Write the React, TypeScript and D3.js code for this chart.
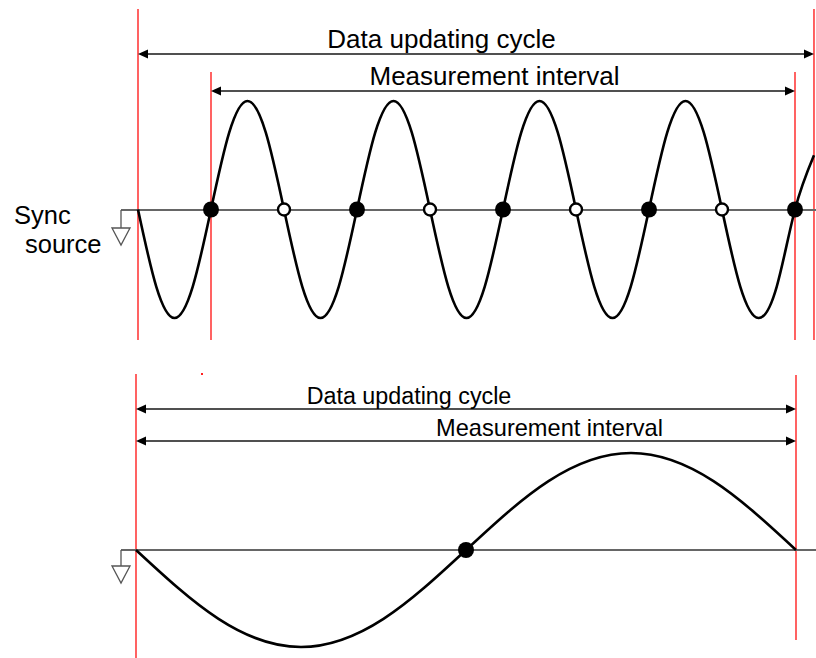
import React from "react";
import * as d3 from "d3";

// ---- data (time in half-periods of the sync source, value normalised) ----
const topWaveT = [0,0.25,0.5,0.75,1,1.25,1.5,1.75,2,2.25,2.5,2.75,3,3.25,3.5,3.75,4,4.25,4.5,4.75,5,5.25,5.5,5.75,6,6.25,6.5,6.75,7,7.25,7.5,7.75,8,8.25,8.5,8.75,9,9.26];
const topWaveV = [0,-0.71,-1,-0.71,0,0.71,1,0.71, 0,-0.71,-1,-0.71,0,0.71,1,0.71, 0,-0.71,-1,-0.71,0,0.71,1,0.71, 0,-0.71,-1,-0.71,0,0.71,1,0.71, 0,-0.71,-1,-0.71,0,0.5];
const topBlackDots = [1,3,5,7,9];
const topWhiteDots = [2,4,6,8];
const topCycle = [0, 9.26];
const topInterval = [1, 9];

const botWaveT = [0,0.25,0.5,0.75,1,1.25,1.5,1.75,2];
const botWaveV = [0,-0.71,-1,-0.71,0,0.71,1,0.71,0];
const botBlackDots = [1];
const botCycle = [0, 2];
const botInterval = [0, 2];

const labels = {
  cycle: "Data updating cycle",
  interval: "Measurement interval",
  sync1: "Sync",
  sync2: "source",
};

const FONT = "'Liberation Sans', Arial, sans-serif";

function Arrow({ x1, x2, y }: { x1: number; x2: number; y: number }) {
  const h = 10, w = 4.5;
  return (
    <g>
      <line x1={x1 + 4} x2={x2 - 4} y1={y} y2={y} stroke="#505050" strokeWidth={2} />
      <path d={`M${x1},${y} L${x1 + h},${y - w} L${x1 + h},${y + w} Z`} fill="#000" />
      <path d={`M${x2},${y} L${x2 - h},${y - w} L${x2 - h},${y + w} Z`} fill="#000" />
    </g>
  );
}

function Ground({ x, y, stem }: { x: number; y: number; stem: number }) {
  const top = y + stem;
  return (
    <g fill="#fff" stroke="#555" strokeWidth={1.3}>
      <line x1={x} x2={x} y1={y} y2={top} />
      <path d={`M${x - 9},${top} L${x + 9},${top} L${x},${top + 17} Z`} />
    </g>
  );
}

export default function App() {
  // top panel scales
  const tx = d3.scaleLinear().domain([0, 9]).range([138, 795]);
  const ty = d3.scaleLinear().domain([-1, 1]).range([318, 101]);
  // bottom panel scales
  const bx = d3.scaleLinear().domain([0, 2]).range([136, 796]);
  const by = d3.scaleLinear().domain([-1, 1]).range([647, 453]);

  const topLine = d3
    .line<number>()
    .x((_, i) => tx(topWaveT[i]))
    .y((v) => ty(v))
    .curve(d3.curveNatural);
  const botLine = d3
    .line<number>()
    .x((_, i) => bx(botWaveT[i]))
    .y((v) => by(v))
    .curve(d3.curveNatural);

  const red = "#ff2020";
  const y0 = 210;

  return (
    <svg
      width={816}
      height={658}
      style={{ position: "absolute", left: 0, top: 0, background: "#fff" }}
      fontFamily={FONT}
    >
      <rect width={816} height={658} fill="#fff" />

      {/* ---------- TOP PANEL ---------- */}
      <line x1={tx(topCycle[0])} x2={tx(topCycle[0])} y1={9} y2={340} stroke={red} strokeWidth={1.4} />
      <line x1={tx(topInterval[0])} x2={tx(topInterval[0])} y1={72} y2={340} stroke={red} strokeWidth={1.4} />
      <line x1={tx(topInterval[1])} x2={tx(topInterval[1])} y1={72} y2={340} stroke={red} strokeWidth={1.4} />
      <line x1={tx(topCycle[1])} x2={tx(topCycle[1])} y1={9} y2={340} stroke={red} strokeWidth={1.4} />

      <Arrow x1={tx(topCycle[0])} x2={tx(topCycle[1])} y={54} />
      <Arrow x1={tx(topInterval[0])} x2={tx(topInterval[1])} y={91} />
      <text x={441.5} y={48} fontSize={26} textAnchor="middle" fill="#000">{labels.cycle}</text>
      <text x={494.5} y={85} fontSize={26} textAnchor="middle" fill="#000">{labels.interval}</text>

      <text x={14} y={224} fontSize={25.5} fill="#000">{labels.sync1}</text>
      <text x={25} y={253} fontSize={25.5} fill="#000">{labels.sync2}</text>

      <line x1={121} x2={816} y1={y0} y2={y0} stroke="#666" strokeWidth={2} />
      <Ground x={121} y={y0} stem={18} />

      <path d={topLine(topWaveV) || ""} fill="none" stroke="#000" strokeWidth={2.6} />

      {topBlackDots.map((t) => (
        <circle key={"b" + t} cx={tx(t)} cy={ty(0)} r={8} fill="#000" />
      ))}
      {topWhiteDots.map((t) => (
        <circle key={"w" + t} cx={tx(t)} cy={ty(0)} r={6} fill="#fff" stroke="#000" strokeWidth={2.4} />
      ))}

      {/* ---------- BOTTOM PANEL ---------- */}
      <line x1={bx(botCycle[0])} x2={bx(botCycle[0])} y1={374} y2={658} stroke={red} strokeWidth={1.4} />
      <line x1={bx(botCycle[1])} x2={bx(botCycle[1])} y1={375} y2={640} stroke={red} strokeWidth={1.4} />
      <rect x={201} y={373} width={2} height={2} fill={red} />

      <Arrow x1={bx(botCycle[0])} x2={bx(botCycle[1])} y={409} />
      <Arrow x1={bx(botInterval[0])} x2={bx(botInterval[1])} y={441} />
      <text x={409} y={404} fontSize={23.3} textAnchor="middle" fill="#000">{labels.cycle}</text>
      <text x={549.5} y={436} fontSize={23.6} textAnchor="middle" fill="#000">{labels.interval}</text>

      <line x1={121} x2={816} y1={by(0)} y2={by(0)} stroke="#666" strokeWidth={2} />
      <Ground x={121} y={by(0)} stem={16} />

      <path d={botLine(botWaveV) || ""} fill="none" stroke="#000" strokeWidth={2.6} />
      {botBlackDots.map((t) => (
        <circle key={"bb" + t} cx={bx(t)} cy={by(0)} r={8} fill="#000" />
      ))}
    </svg>
  );
}
